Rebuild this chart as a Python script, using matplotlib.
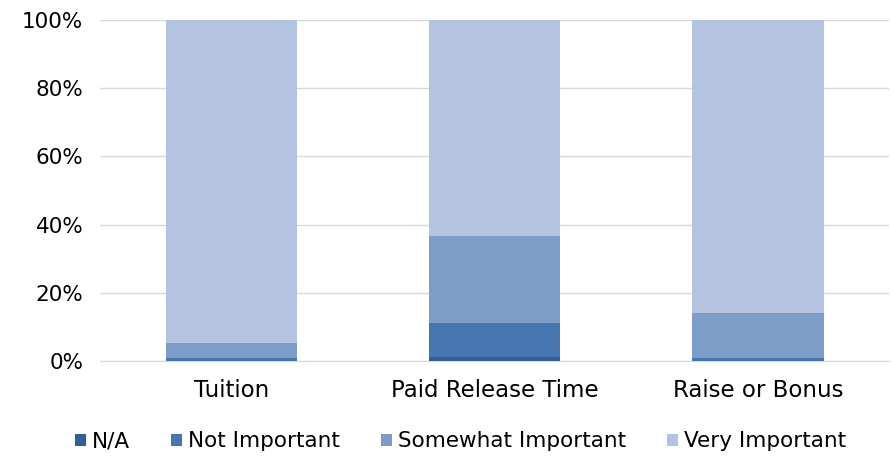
import numpy as np
import matplotlib.pyplot as plt

plt.rcParams['font.family'] = ['DejaVu Sans']

categories = ['Tuition', 'Paid Release Time', 'Raise or Bonus']
series = ['N/A', 'Not Important', 'Somewhat Important', 'Very Important']
na = [0.0, 1.2, 0.0]
not_important = [0.8, 9.9, 0.8]
somewhat = [4.6, 25.6, 13.2]
very = [94.6, 63.3, 86.0]
colors = ['#335F96', '#4676B0', '#7E9CC8', '#B4C3DF']

fig = plt.figure(figsize=(8.92, 4.58), dpi=100)
ax = fig.add_axes([0.112, 0.212, 0.885, 0.744])

x = np.arange(len(categories))
bottom = np.zeros(len(categories))
for name, vals, c in zip(series, [na, not_important, somewhat, very], colors):
    ax.bar(x, vals, 0.5, bottom=bottom, color=c, label=name, zorder=3)
    bottom += np.array(vals)

ax.set_xlim(-0.5, 2.5)
ax.set_ylim(0, 100)
ax.set_yticks(np.arange(0, 101, 20))
ax.set_yticklabels([f'{v}%' for v in range(0, 101, 20)])
ax.set_xticks(x)
ax.set_xticklabels(categories)
ax.yaxis.grid(True, color='#D9D9D9', linewidth=1, zorder=0)
for s in ['top', 'right', 'left']:
    ax.spines[s].set_visible(False)
ax.spines['bottom'].set_color('#D9D9D9')
ax.tick_params(axis='both', length=0, labelsize=15.5, colors='#000000')
ax.tick_params(axis='x', pad=13, labelsize=16.5)
ax.tick_params(axis='y', pad=12)

ax.legend(loc='upper center', bbox_to_anchor=(0.457, -0.15), ncol=4, frameon=False,
          fontsize=15.5, handlelength=0.5, handleheight=0.5, handletextpad=0.3,
          columnspacing=1.9)

fig.savefig('out.png', dpi=100)
